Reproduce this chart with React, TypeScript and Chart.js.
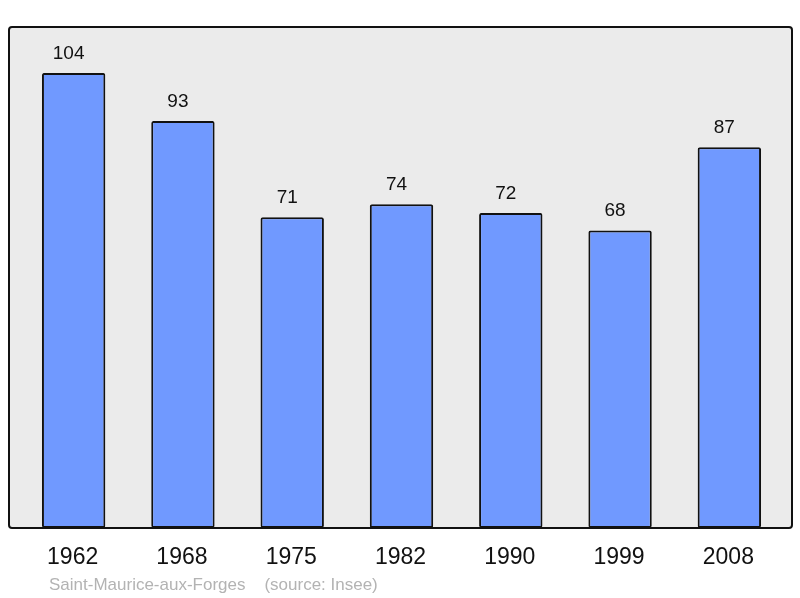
import React, { useEffect, useRef } from "react";
import { Chart, registerables } from "chart.js";

Chart.register(...registerables);

const years = ["1962", "1968", "1975", "1982", "1990", "1999", "2008"];
const population = [104, 93, 71, 74, 72, 68, 87];
const sourceText = "Saint-Maurice-aux-Forges    (source: Insee)";

const FONT = '"Liberation Sans", Arial, sans-serif';

const boxPlugin = {
  id: "boxPlugin",
  beforeDraw(chart: any) {
    const { ctx, chartArea } = chart;
    const l = chartArea.left - 10;
    const r = chartArea.right + 8;
    const t = chartArea.top;
    const b = chartArea.bottom;
    ctx.save();
    ctx.beginPath();
    ctx.roundRect(l, t, r - l, b - t, 3);
    ctx.fillStyle = "#ebebeb";
    ctx.fill();
    ctx.restore();
  },
  afterDatasetsDraw(chart: any) {
    const { ctx, chartArea, scales } = chart;
    const l = chartArea.left - 10;
    const r = chartArea.right + 8;
    const t = chartArea.top;
    const b = chartArea.bottom;
    ctx.save();
    ctx.beginPath();
    ctx.roundRect(l, t, r - l, b - t, 3);
    ctx.lineWidth = 2;
    ctx.strokeStyle = "#111111";
    ctx.stroke();

    // value labels
    const meta = chart.getDatasetMeta(0);
    ctx.fillStyle = "#111111";
    ctx.textAlign = "center";
    ctx.textBaseline = "alphabetic";
    ctx.font = `19px ${FONT}`;
    meta.data.forEach((bar: any, i: number) => {
      ctx.fillText(String(population[i]), bar.x - 5, bar.y - 14);
    });

    // x labels
    ctx.font = `23px ${FONT}`;
    years.forEach((y, i) => {
      const x = scales.x.getPixelForValue(i);
      ctx.fillText(y, x - 1, b + 36);
    });

    // source
    ctx.textAlign = "left";
    ctx.fillStyle = "#b3b3b3";
    ctx.font = `17px ${FONT}`;
    ctx.fillText(sourceText, l + 40, b + 62);
    ctx.restore();
  },
};

export default function App() {
  const ref = useRef<HTMLCanvasElement>(null);
  useEffect(() => {
    if (!ref.current) return;
    const chart = new Chart(ref.current, {
      type: "bar",
      data: {
        labels: years,
        datasets: [
          {
            data: population,
            backgroundColor: "#7099ff",
            borderColor: "#111111",
            borderWidth: 2,
            borderRadius: 2,
            borderSkipped: false,
            barPercentage: 0.58,
            categoryPercentage: 1,
          },
        ],
      },
      options: {
        animation: false,
        responsive: false,
        maintainAspectRatio: false,
        layout: { padding: { left: 19, right: 16, top: 27, bottom: 70 } },
        plugins: { legend: { display: false }, tooltip: { enabled: false } },
        scales: {
          x: { display: false },
          y: { display: false, min: 0, max: 114.5 },
        },
      },
      plugins: [boxPlugin],
    });
    return () => chart.destroy();
  }, []);
  return (
    <div style={{ position: "fixed", left: 0, top: 0, width: 800, height: 598, background: "#fff" }}>
      <canvas ref={ref} width={800} height={598} style={{ width: 800, height: 598 }} />
    </div>
  );
}
